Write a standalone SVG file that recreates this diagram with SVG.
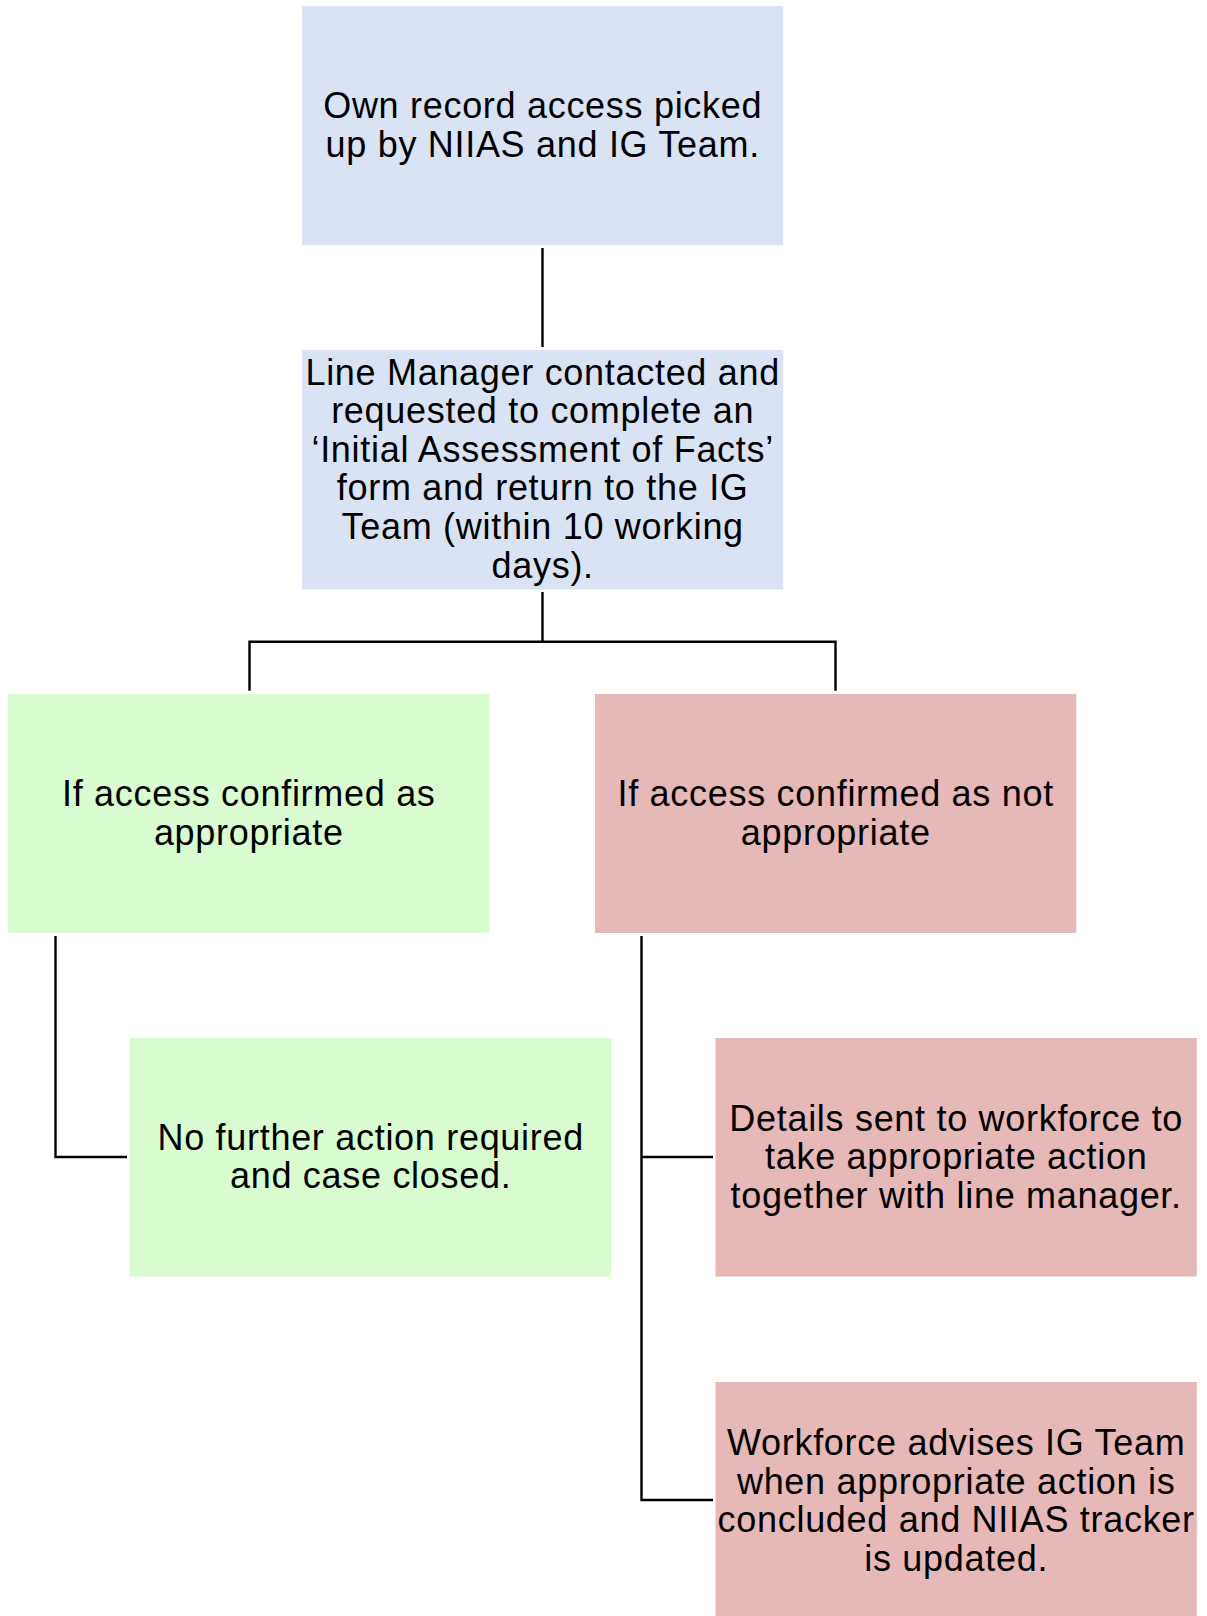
<svg xmlns="http://www.w3.org/2000/svg" width="1207" height="1616" viewBox="0 0 1207 1616">
  <style>
    .box { stroke: none; }
    .blue { fill: #dae3f3; }
    .green { fill: #d8fccf; }
    .red { fill: #e6b8b7; }
    .lbl { font-family: "Liberation Sans", Arial, sans-serif; font-size: 36px; letter-spacing: 0.7px; fill: #000; text-anchor: middle; }
    .conn { fill: none; stroke: #000; stroke-width: 2.4; stroke-linecap: butt; stroke-linejoin: miter; }
  </style>
  <rect x="0" y="0" width="1207" height="1616" fill="#ffffff"/>

  <g id="connectors">
    <path class="conn" d="M542.5 248 V347"/>
    <path class="conn" d="M542.5 592 V641.7"/>
    <path class="conn" d="M249.5 690.7 V641.7 H835.5 V690.7"/>
    <path class="conn" d="M55.5 936 V1157 H127"/>
    <path class="conn" d="M641.5 936 V1500 H713"/>
    <path class="conn" d="M641.5 1157 H713"/>
  </g>

  <g id="node-own-record">
    <rect class="box blue" x="302" y="6" width="481.3" height="239.3"/>
    <text class="lbl" x="542.7" y="118.3">Own record access picked</text>
    <text class="lbl" x="542.7" y="156.9">up by NIIAS and IG Team.</text>
  </g>

  <g id="node-line-manager">
    <rect class="box blue" x="302" y="350" width="481.3" height="239.5"/>
    <text class="lbl" x="542.7" y="384.5">Line Manager contacted and</text>
    <text class="lbl" x="542.7" y="423.1">requested to complete an</text>
    <text class="lbl" x="542.7" y="461.7">‘Initial Assessment of Facts’</text>
    <text class="lbl" x="542.7" y="500.3">form and return to the IG</text>
    <text class="lbl" x="542.7" y="538.9">Team (within 10 working</text>
    <text class="lbl" x="542.7" y="577.5">days).</text>
  </g>

  <g id="node-appropriate">
    <rect class="box green" x="8" y="694" width="481.5" height="239"/>
    <text class="lbl" x="248.8" y="806">If access confirmed as</text>
    <text class="lbl" x="248.8" y="844.6">appropriate</text>
  </g>

  <g id="node-not-appropriate">
    <rect class="box red" x="595" y="694" width="481.3" height="239"/>
    <text class="lbl" x="835.7" y="806">If access confirmed as not</text>
    <text class="lbl" x="835.7" y="844.6">appropriate</text>
  </g>

  <g id="node-no-further-action">
    <rect class="box green" x="130" y="1038" width="481.3" height="238.5"/>
    <text class="lbl" x="370.7" y="1149.5">No further action required</text>
    <text class="lbl" x="370.7" y="1188.1">and case closed.</text>
  </g>

  <g id="node-details-sent">
    <rect class="box red" x="715.5" y="1038" width="481.3" height="238.5"/>
    <text class="lbl" x="956.2" y="1130.5">Details sent to workforce to</text>
    <text class="lbl" x="956.2" y="1169.1">take appropriate action</text>
    <text class="lbl" x="956.2" y="1207.7">together with line manager.</text>
  </g>

  <g id="node-workforce-advises">
    <rect class="box red" x="715.5" y="1382" width="481.3" height="240"/>
    <text class="lbl" x="956.2" y="1455">Workforce advises IG Team</text>
    <text class="lbl" x="956.2" y="1493.6">when appropriate action is</text>
    <text class="lbl" x="956.2" y="1532.2">concluded and NIIAS tracker</text>
    <text class="lbl" x="956.2" y="1570.8">is updated.</text>
  </g>
</svg>
